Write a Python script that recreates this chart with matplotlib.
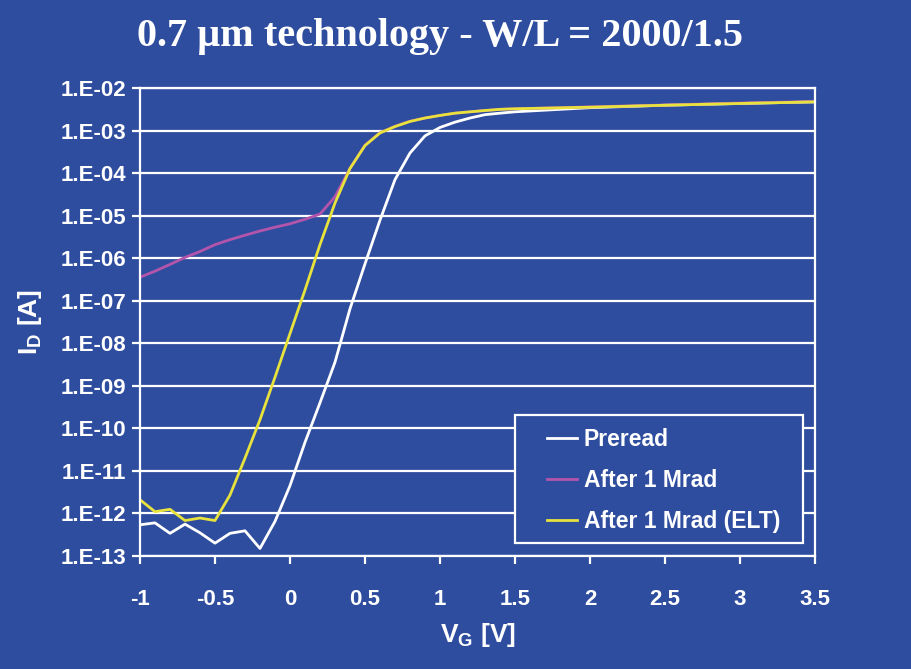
import numpy as np
import matplotlib
matplotlib.use("Agg")
import matplotlib.pyplot as plt
from matplotlib.patches import Rectangle
from matplotlib.ticker import FixedLocator, FuncFormatter

plt.rcParams["font.family"] = ["Liberation Sans", "DejaVu Sans"]
plt.rcParams["mathtext.fontset"] = "custom"
plt.rcParams["mathtext.bf"] = "Liberation Sans:bold"
plt.rcParams["mathtext.rm"] = "Liberation Sans"

# gate voltage [V]
vg = [-1.0, -0.9, -0.8, -0.7, -0.6, -0.5, -0.4, -0.3, -0.2, -0.1,
      0.0, 0.1, 0.2, 0.3, 0.4, 0.5, 0.6, 0.7, 0.8, 0.9,
      1.0, 1.1, 1.2, 1.3, 1.4, 1.5, 2.0, 2.5, 3.0, 3.5]

# drain current [A]
preread = [5.4e-13, 6.0e-13, 3.4e-13, 5.6e-13, 3.5e-13, 2.0e-13, 3.4e-13, 3.9e-13, 1.5e-13, 6.5e-13,
           4.5e-12, 4.7e-11, 4.0e-10, 3.6e-9, 6.5e-8, 7.4e-7, 7.9e-6, 7.1e-5, 3.0e-4, 7.6e-4,
           1.2e-3, 1.6e-3, 2.0e-3, 2.4e-3, 2.6e-3, 2.8e-3, 3.5e-3, 4.0e-3, 4.4e-3, 4.8e-3]
after_1mrad = [3.6e-7, 5.0e-7, 7.2e-7, 1.05e-6, 1.45e-6, 2.1e-6, 2.75e-6, 3.5e-6, 4.4e-6, 5.4e-6,
               6.5e-6, 8.3e-6, 1.1e-5, 2.8e-5, 1.3e-4, 4.6e-4, 9.0e-4, 1.28e-3, 1.68e-3, 2.0e-3,
               2.3e-3, 2.6e-3, 2.8e-3, 3.0e-3, 3.2e-3, 3.3e-3, 3.65e-3, 4.05e-3, 4.5e-3, 4.9e-3]
after_1mrad_elt = [2.1e-12, 1.1e-12, 1.25e-12, 6.8e-13, 7.8e-13, 6.8e-13, 2.7e-12, 2.0e-11, 1.6e-10, 1.6e-9,
                   1.7e-8, 1.8e-7, 2.1e-6, 2.0e-5, 1.3e-4, 4.5e-4, 8.9e-4, 1.26e-3, 1.66e-3, 2.0e-3,
                   2.3e-3, 2.6e-3, 2.8e-3, 3.0e-3, 3.2e-3, 3.3e-3, 3.6e-3, 4.0e-3, 4.4e-3, 4.8e-3]

xticks = [-1, -0.5, 0, 0.5, 1, 1.5, 2, 2.5, 3, 3.5]
yticks = [1e-13, 1e-12, 1e-11, 1e-10, 1e-9, 1e-8, 1e-7, 1e-6, 1e-5, 1e-4, 1e-3, 1e-2]

bg = "#2f4d9f"
fig = plt.figure(figsize=(9.12, 6.69), dpi=100, facecolor=bg)
ax = fig.add_axes([0.1535, 0.169, 0.7401, 0.699], facecolor=bg)

ax.plot(vg, preread, color="white", lw=2, label="Preread")
ax.plot(vg, after_1mrad, color="#b455ac", lw=2, label="After 1 Mrad")
ax.plot(vg, after_1mrad_elt, color="#e8e23c", lw=2, label="After 1 Mrad (ELT)")

ax.set_yscale("log")
ax.set_xlim(-1, 3.5)
ax.set_ylim(1e-13, 1e-2)
ax.yaxis.set_major_locator(FixedLocator(yticks))
ax.yaxis.set_minor_locator(FixedLocator([]))
ax.yaxis.set_major_formatter(FuncFormatter(lambda v, p: "1.E%03d" % round(np.log10(v))))
ax.set_xticks(xticks)
ax.set_xticklabels(["%g" % t for t in xticks])

ax.grid(axis="y", color="white", lw=1.6)
for s in ax.spines.values():
    s.set_color("white")
    s.set_linewidth(1.6)
ax.tick_params(colors="white", width=1.6, length=6, labelsize=16)
for lab in ax.get_xticklabels() + ax.get_yticklabels():
    lab.set_fontweight("bold")
ax.tick_params(axis="x", pad=18)
ax.tick_params(axis="y", pad=4)

ax.set_xlabel("V$_\\mathbf{G}$ [V]", color="white", fontsize=19, fontweight="bold", labelpad=8)
ax.set_ylabel("I$_\\mathbf{D}$ [A]", color="white", fontsize=19, fontweight="bold", labelpad=12)

fig.text(0.482, 0.945, "0.7 \u03bcm technology - W/L = 2000/1.5", color="white",
         fontsize=29, fontweight="bold", family="Liberation Serif", ha="center", va="center")

# legend box (Excel-style, wider than its content)
ax.add_patch(Rectangle((0.5556, 0.0278), 0.4267, 0.2735, transform=ax.transAxes,
                       facecolor=bg, edgecolor="white", lw=1.6, zorder=4, clip_on=False))
leg = ax.legend(loc="upper left", bbox_to_anchor=(0.603, 0.273), borderaxespad=0,
                frameon=False, prop={"weight": "bold", "size": 16.5},
                handlelength=1.3, handletextpad=0.3, labelspacing=0.77, borderpad=0)
leg.set_zorder(5)
for t in leg.get_texts():
    t.set_color("white")

fig.savefig("out.png", dpi=100, facecolor=bg)
